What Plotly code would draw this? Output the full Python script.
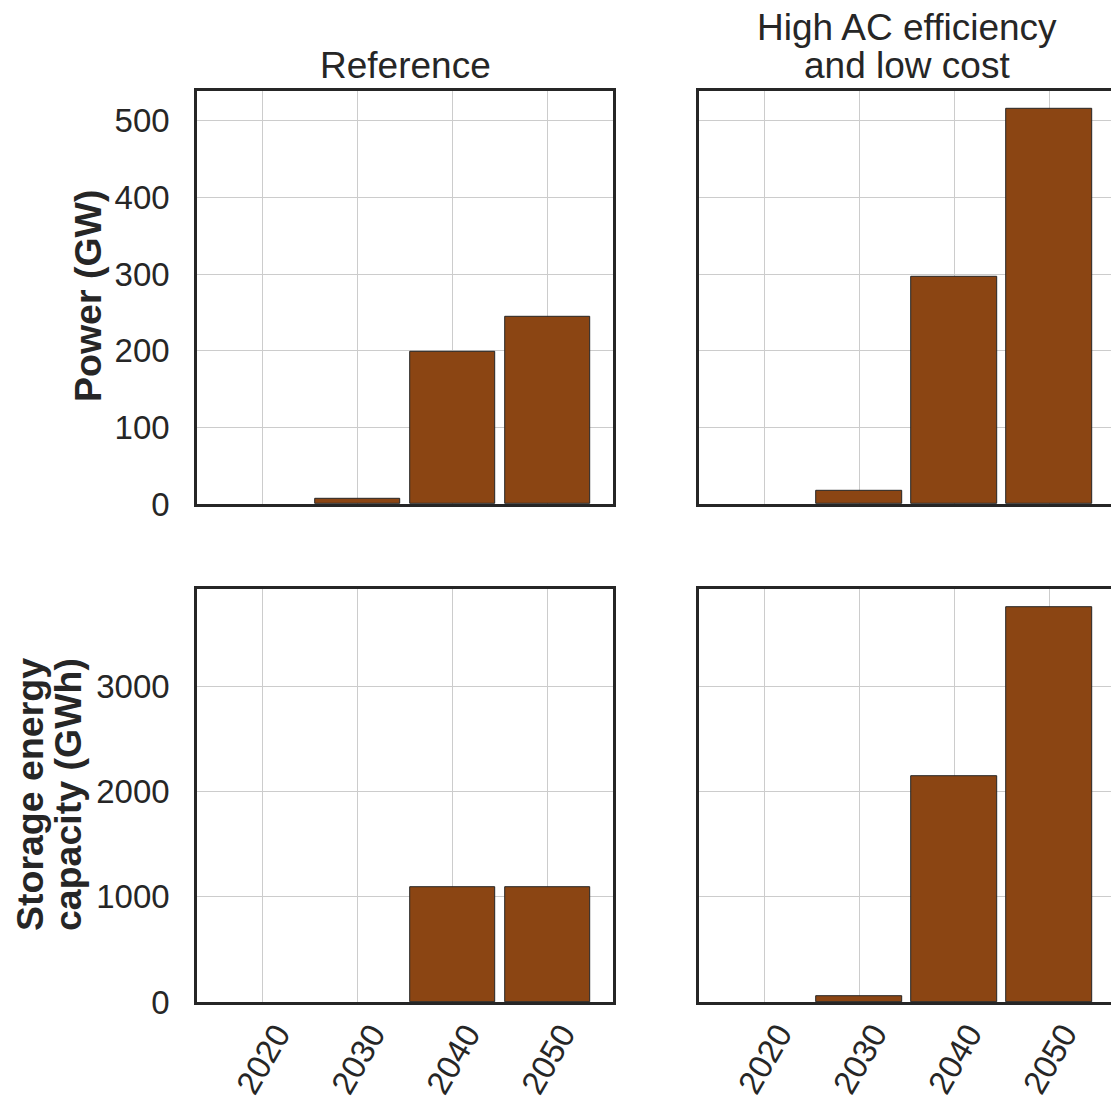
import plotly.graph_objects as go

years = [2020, 2030, 2040, 2050]
col_title_ref = ["Reference"]
col_title_high = ["High AC efficiency", "and low cost"]
row_title_power = ["Power (GW)"]
row_title_energy = ["Storage energy", "capacity (GWh)"]

power_reference = [0, 7, 199, 244]
power_high_ac = [0, 17, 297, 516]
energy_reference = [0, 0, 1089, 1087]
energy_high_ac = [0, 54, 2148, 3757]

power_ticks = [0, 100, 200, 300, 400, 500]
energy_ticks = [0, 1000, 2000, 3000]

W, H = 1111, 1103
TXT = "#262626"
FONT = "Liberation Sans, Arial, sans-serif"
BAR = "#8B4513"


def px_x(p):
    return p / W


def px_y(p):
    return 1 - p / H


fig = go.Figure()

panels = [
    ("x", "y", power_reference),
    ("x2", "y2", power_high_ac),
    ("x3", "y3", energy_reference),
    ("x4", "y4", energy_high_ac),
]
for xa, ya, vals in panels:
    fig.add_trace(go.Bar(
        x=years, y=vals, width=9, xaxis=xa, yaxis=ya,
        marker=dict(color=BAR,
                    line=dict(color=TXT, width=[0 if v == 0 else 1 for v in vals])),
        showlegend=False,
    ))

left_dom = [px_x(197.2), px_x(612.8)]
right_dom = [px_x(699.2), 1.0]
top_dom = [px_y(504.0), px_y(90.8)]
bot_dom = [px_y(1002.0), px_y(589.2)]

xr_left = [2013.11, 2056.85]
xr_right = [2013.15, 2056.49]

common_x = dict(
    tickvals=years, showticklabels=False, showgrid=True, gridcolor="#cccccc",
    gridwidth=1, showline=True, linecolor=TXT, linewidth=3, ticks="", zeroline=False,
)
common_y = dict(
    showgrid=True, gridcolor="#cccccc", gridwidth=1, showline=True,
    linecolor=TXT, linewidth=3, ticks="", zeroline=False,
    tickfont=dict(family=FONT, size=33, color=TXT),
)

fig.update_layout(
    width=W, height=H,
    margin=dict(l=0, r=0, t=0, b=0, autoexpand=False),
    paper_bgcolor="white", plot_bgcolor="white",
    font=dict(family=FONT, color=TXT),
    bargap=0,
    xaxis=dict(domain=left_dom, range=xr_left, anchor="y", mirror=True, **common_x),
    xaxis2=dict(domain=right_dom, range=xr_right, anchor="y2", mirror=True, **common_x),
    xaxis3=dict(domain=left_dom, range=xr_left, anchor="y3", mirror=True, **common_x),
    xaxis4=dict(domain=right_dom, range=xr_right, anchor="y4", mirror=True, **common_x),
    yaxis=dict(domain=top_dom, range=[0, 539.1], anchor="x", tickvals=power_ticks,
               mirror=True, ticklabelstandoff=18, **common_y),
    yaxis2=dict(domain=top_dom, range=[0, 539.1], anchor="x2", tickvals=power_ticks,
                showticklabels=False, mirror=False, **common_y),
    yaxis3=dict(domain=bot_dom, range=[0, 3924], anchor="x3", tickvals=energy_ticks,
                mirror=True, ticklabelstandoff=18, **common_y),
    yaxis4=dict(domain=bot_dom, range=[0, 3924], anchor="x4", tickvals=energy_ticks,
                showticklabels=False, mirror=False, **common_y),
)

ann = []
title_font = dict(family=FONT, size=37, color=TXT)
label_font = dict(family=FONT, size=37.5, color=TXT)
# column titles
ann.append(dict(text=col_title_ref[0], x=px_x(405), y=px_y(88),
                xref="paper", yref="paper", xanchor="center", yanchor="bottom",
                showarrow=False, font=title_font))
for i, line in enumerate(col_title_high):
    ann.append(dict(text=line, x=px_x(907), y=px_y(50 + 38 * i),
                    xref="paper", yref="paper", xanchor="center", yanchor="bottom",
                    showarrow=False, font=title_font))
# row titles
ann.append(dict(text="<b>" + row_title_power[0] + "</b>", x=px_x(88), y=px_y(296),
                xref="paper", yref="paper", xanchor="center", yanchor="middle",
                textangle=-90, showarrow=False, font=label_font))
for i, line in enumerate(row_title_energy):
    ann.append(dict(text="<b>" + line + "</b>", x=px_x(30 + 38 * i), y=px_y(795),
                    xref="paper", yref="paper", xanchor="center", yanchor="middle",
                    textangle=-90, showarrow=False, font=label_font))
# x tick labels (rotated, centered under ticks)
for xa in ["x3", "x4"]:
    for yr in years:
        ann.append(dict(text=str(yr), x=yr, xref=xa, y=px_y(1059), yref="paper",
                        xanchor="center", yanchor="middle", textangle=-60,
                        showarrow=False, font=dict(family=FONT, size=33, color=TXT)))
fig.update_layout(annotations=ann)

fig.write_html(
    "out.html",
    config={"displayModeBar": False, "displaylogo": False},
    post_script=(
        "document.body.style.margin='0';"
        "document.body.style.overflow='hidden';"
        "document.documentElement.style.overflow='hidden';"
    ),
)
